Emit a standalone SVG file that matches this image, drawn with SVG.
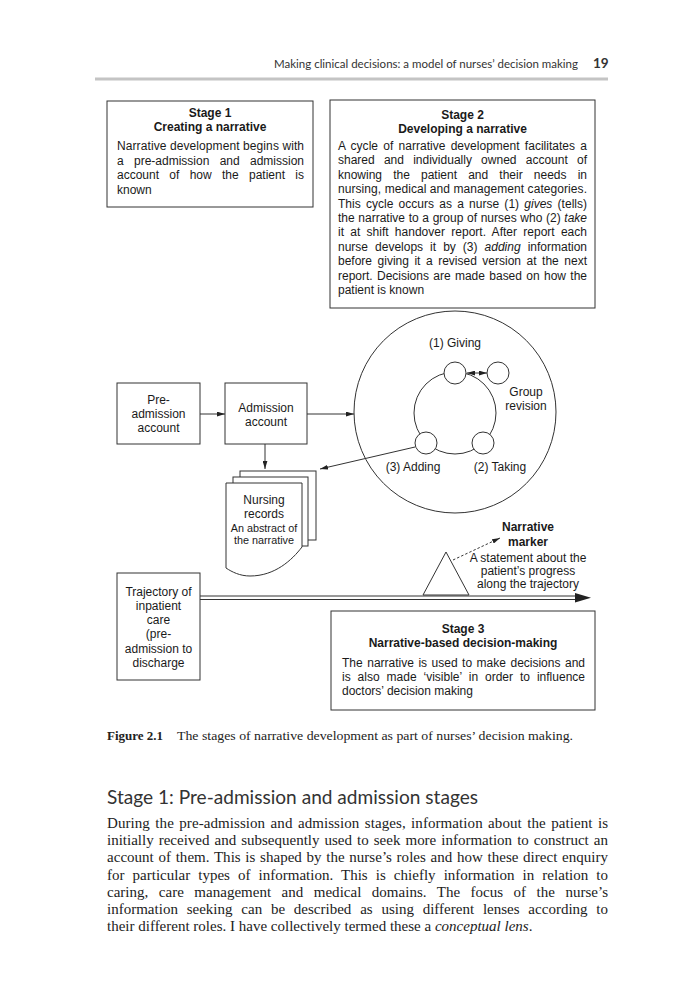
<svg xmlns="http://www.w3.org/2000/svg" width="695" height="1000" viewBox="0 0 695 1000">
<style>
.d{font-family:"Liberation Sans",Arial,sans-serif;font-size:12px;fill:#1a1a1a}
.b{font-weight:bold}
.c{text-anchor:middle}
.s{font-size:10.8px}
.box{fill:#fff;stroke:#333;stroke-width:1}
.ln{fill:none;stroke:#333;stroke-width:1}
.serif{font-family:"Liberation Serif","Times New Roman",serif;fill:#222}
.p{font-size:15px}
.gs{font-family:Lato,"Open Sans",sans-serif;fill:#333}
</style>
<defs>
<marker id="ah" viewBox="0 0 10 6" refX="10" refY="3" markerWidth="8" markerHeight="5" orient="auto-start-reverse" markerUnits="userSpaceOnUse">
<path d="M0,0 L10,3 L0,6 z" fill="#222"/>
</marker>
</defs>
<rect width="695" height="1000" fill="#fff"/>

<g id="page-header">
<text class="gs" x="274" y="68" font-size="12" textLength="304" lengthAdjust="spacingAndGlyphs">Making clinical decisions: a model of nurses’ decision making</text>
<text class="gs" x="593" y="68" font-size="13.5" font-weight="bold" fill="#111">19</text>
<rect x="95" y="77.5" width="513" height="3" fill="#c4c4c4"/>
</g>

<g id="stage1">
<rect class="box" x="107" y="101" width="206" height="106"/>
<text class="d b c" x="210" y="117">Stage 1</text>
<text class="d b c" x="210" y="131">Creating a narrative</text>
<text class="d" x="117" y="150" textLength="187" lengthAdjust="spacing">Narrative development begins with</text>
<text class="d" x="117" y="164.5" word-spacing="7" textLength="187" lengthAdjust="spacing">a pre-admission and admission</text>
<text class="d" x="117" y="179" word-spacing="7" textLength="187" lengthAdjust="spacing">account of how the patient is</text>
<text class="d" x="117" y="193.5">known</text>
</g>

<g id="stage2">
<rect class="box" x="330" y="100" width="265" height="208"/>
<text class="d b c" x="462.5" y="119">Stage 2</text>
<text class="d b c" x="462.5" y="133">Developing a narrative</text>
<text class="d" x="338" y="150" word-spacing="1.9" textLength="249" lengthAdjust="spacing">A cycle of narrative development facilitates a</text>
<text class="d" x="338" y="164.4" word-spacing="5.9" textLength="249" lengthAdjust="spacing">shared and individually owned account of</text>
<text class="d" x="338" y="178.8" word-spacing="7.8" textLength="249" lengthAdjust="spacing">knowing the patient and their needs in</text>
<text class="d" x="338" y="193.2" textLength="249" lengthAdjust="spacing">nursing, medical and management categories.</text>
<text class="d" x="338" y="207.6" word-spacing="1.9" textLength="249" lengthAdjust="spacing">This cycle occurs as a nurse (1) <tspan font-style="italic">gives</tspan> (tells)</text>
<text class="d" x="338" y="222" word-spacing="0.3" textLength="249" lengthAdjust="spacing">the narrative to a group of nurses who (2) <tspan font-style="italic">take</tspan></text>
<text class="d" x="338" y="236.4" word-spacing="2.9" textLength="249" lengthAdjust="spacing">it at shift handover report. After report each</text>
<text class="d" x="338" y="250.8" word-spacing="3.7" textLength="249" lengthAdjust="spacing">nurse develops it by (3) <tspan font-style="italic">adding</tspan> information</text>
<text class="d" x="338" y="265.2" word-spacing="2.2" textLength="249" lengthAdjust="spacing">before giving it a revised version at the next</text>
<text class="d" x="338" y="279.6" word-spacing="1" textLength="249" lengthAdjust="spacing">report. Decisions are made based on how the</text>
<text class="d" x="338" y="294">patient is known</text>
</g>

<g id="pre-admission">
<rect class="box" x="117" y="383" width="83" height="61"/>
<text class="d c" x="158.5" y="404">Pre-</text>
<text class="d c" x="158.5" y="418">admission</text>
<text class="d c" x="158.5" y="432">account</text>
</g>

<g id="admission">
<rect class="box" x="225" y="383" width="82" height="61"/>
<text class="d c" x="266" y="412">Admission</text>
<text class="d c" x="266" y="426">account</text>
</g>

<g id="cycle">
<circle class="ln" cx="455" cy="412" r="101"/>
<circle class="ln" cx="455" cy="413" r="41"/>
<circle class="box" cx="455" cy="373" r="11"/>
<circle class="box" cx="498" cy="373" r="11"/>
<circle class="box" cx="426" cy="443" r="11"/>
<circle class="box" cx="483" cy="443" r="11"/>
<text class="d c" x="455" y="347">(1) Giving</text>
<text class="d c" x="526" y="396">Group</text>
<text class="d c" x="526" y="410">revision</text>
<text class="d c" x="413" y="471">(3) Adding</text>
<text class="d c" x="500" y="471">(2) Taking</text>
</g>

<g id="nursing-records">
<rect class="box" x="240" y="471" width="76" height="69"/>
<rect class="box" x="233" y="477" width="75" height="69"/>
<path class="box" d="M226,483 H302 V547 C292,560 275,576 250,576 C240,576 232,572 226,568 Z"/>
<text class="d c" x="264" y="504">Nursing</text>
<text class="d c" x="264" y="518">records</text>
<text class="d c s" x="264" y="531.5">An abstract of</text>
<text class="d c s" x="264" y="544">the narrative</text>
</g>

<g id="narrative-marker">
<path class="ln" d="M446,552 L423,595 L469,595 Z" fill="#fff"/>
<text class="d b c" x="528" y="531">Narrative</text>
<text class="d b c" x="528" y="546">marker</text>
<text class="d c" font-size="10.5" x="528" y="562">A statement about the</text>
<text class="d c" font-size="10.5" x="528" y="575">patient’s progress</text>
<text class="d c" font-size="10.5" x="528" y="588">along the trajectory</text>
</g>

<g id="trajectory">
<rect class="box" x="117" y="573" width="83" height="107"/>
<text class="d c" x="158.5" y="596">Trajectory of</text>
<text class="d c" x="158.5" y="610">inpatient</text>
<text class="d c" x="158.5" y="624">care</text>
<text class="d c" x="158.5" y="638">(pre-</text>
<text class="d c" x="158.5" y="653">admission to</text>
<text class="d c" x="158.5" y="667">discharge</text>
</g>

<g id="stage3">
<rect class="box" x="331" y="611" width="264" height="99"/>
<text class="d b c" x="463" y="633">Stage 3</text>
<text class="d b c" x="463" y="647">Narrative-based decision-making</text>
<text class="d" x="342" y="667" word-spacing="1.2" textLength="243" lengthAdjust="spacing">The narrative is used to make decisions and</text>
<text class="d" x="342" y="681" word-spacing="3.6" textLength="243" lengthAdjust="spacing">is also made ‘visible’ in order to influence</text>
<text class="d" x="342" y="695">doctors’ decision making</text>
</g>

<g id="connectors">
<line class="ln" x1="200" y1="414" x2="225" y2="414" marker-end="url(#ah)"/>
<line class="ln" x1="307" y1="414" x2="354" y2="414" marker-end="url(#ah)"/>
<line class="ln" x1="265" y1="444" x2="265" y2="469" marker-end="url(#ah)"/>
<line class="ln" x1="415" y1="447" x2="320" y2="469" marker-end="url(#ah)"/>
<line class="ln" x1="467" y1="373" x2="487" y2="373" marker-start="url(#ah)" marker-end="url(#ah)"/>
<line class="ln" x1="453" y1="560" x2="500" y2="538" stroke-dasharray="2.5,2" marker-end="url(#ah)"/>
<line class="ln" x1="200" y1="596" x2="578" y2="596"/>
<line class="ln" x1="200" y1="599.5" x2="578" y2="599.5"/>
<path d="M575,593 L591,597.8 L575,602.5 Z" fill="#222"/>
</g>

<g id="caption">
<text class="serif" x="107" y="740" font-size="13" font-weight="bold">Figure 2.1</text>
<text class="serif" x="177" y="740" font-size="13" textLength="396" lengthAdjust="spacingAndGlyphs">The stages of narrative development as part of nurses’ decision making.</text>
</g>

<g id="body-text">
<text class="gs" x="107" y="804" font-size="20" textLength="371" lengthAdjust="spacingAndGlyphs" fill="#222">Stage 1: Pre-admission and admission stages</text>
<text class="serif p" x="107" y="828" word-spacing="1.6" textLength="501" lengthAdjust="spacing">During the pre-admission and admission stages, information about the patient is</text>
<text class="serif p" x="107" y="845.2" word-spacing="1.3" textLength="501" lengthAdjust="spacing">initially received and subsequently used to seek more information to construct an</text>
<text class="serif p" x="107" y="862.4" word-spacing="0.9" textLength="501" lengthAdjust="spacing">account of them. This is shaped by the nurse’s roles and how these direct enquiry</text>
<text class="serif p" x="107" y="879.6" word-spacing="4.3" textLength="501" lengthAdjust="spacing">for particular types of information. This is chiefly information in relation to</text>
<text class="serif p" x="107" y="896.8" word-spacing="6.7" textLength="501" lengthAdjust="spacing">caring, care management and medical domains. The focus of the nurse’s</text>
<text class="serif p" x="107" y="914" word-spacing="5" textLength="501" lengthAdjust="spacing">information seeking can be described as using different lenses according to</text>
<text class="serif p" x="107" y="931.2">their different roles. I have collectively termed these a <tspan font-style="italic">conceptual lens</tspan>.</text>
</g>
</svg>
